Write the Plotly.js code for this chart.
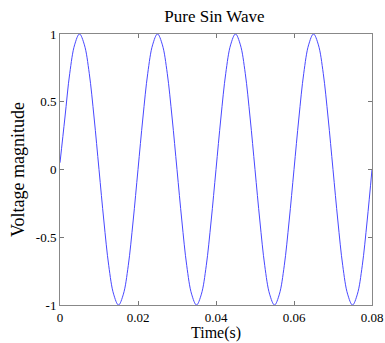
<!DOCTYPE html>
<html><head><meta charset="utf-8">
<script src="https://cdn.plot.ly/plotly-3.0.1.min.js"></script>
<style>html,body{margin:0;padding:0;background:#fff}#g{width:385px;height:343px}</style>
</head><body><div id="g"></div>
<script>
const timeS = [0,0.00125,0.0025,0.00375,0.005,0.00625,0.0075,0.00875,0.01,0.01125,0.0125,0.01375,0.015,0.01625,0.0175,0.01875,
0.02,0.02125,0.0225,0.02375,0.025,0.02625,0.0275,0.02875,0.03,0.03125,0.0325,0.03375,0.035,0.03625,0.0375,0.03875,
0.04,0.04125,0.0425,0.04375,0.045,0.04625,0.0475,0.04875,0.05,0.05125,0.0525,0.05375,0.055,0.05625,0.0575,0.05875,
0.06,0.06125,0.0625,0.06375,0.065,0.06625,0.0675,0.06875,0.07,0.07125,0.0725,0.07375,0.075,0.07625,0.0775,0.07875,0.08];
const voltage = [0.05,0.38,0.71,0.92,1,0.92,0.71,0.38,0,-0.38,-0.71,-0.92,-1,-0.92,-0.71,-0.38,
0,0.38,0.71,0.92,1,0.92,0.71,0.38,0,-0.38,-0.71,-0.92,-1,-0.92,-0.71,-0.38,
0,0.38,0.71,0.92,1,0.92,0.71,0.38,0,-0.38,-0.71,-0.92,-1,-0.92,-0.71,-0.38,
0,0.38,0.71,0.92,1,0.92,0.71,0.38,0,-0.38,-0.71,-0.92,-1,-0.92,-0.71,-0.38,0];
const xTicks = [0,0.02,0.04,0.06,0.08];
const xTickText = ['0','0.02','0.04','0.06','0.08'];
const yTicks = [-1,-0.5,0,0.5,1];
const yTickText = ['-1','-0.5','0','0.5','1'];

const font = {family:'"Liberation Serif","Times New Roman",serif', color:'#000'};
Plotly.newPlot('g', [{
  x: timeS, y: voltage, type:'scatter', mode:'lines',
  line:{color:'#4848ff', width:1, shape:'spline', smoothing:1}
}], {
  width:385, height:343,
  margin:{l:60, r:13, t:34, b:38},
  paper_bgcolor:'#fff', plot_bgcolor:'#fff',
  showlegend:false,
  title:{text:'Pure Sin Wave', font:Object.assign({size:17}, font), x:0.557, xanchor:'center', y:0.952, yanchor:'middle'},
  xaxis:{range:[0,0.08], tickvals:xTicks, ticktext:xTickText, ticks:'inside', ticklen:4, tickcolor:'#777',
    showline:true, linecolor:'#888', linewidth:1, mirror:'ticks', showgrid:false, zeroline:false,
    tickfont:Object.assign({size:13}, font)},
  yaxis:{range:[-1,1], tickvals:yTicks, ticktext:yTickText, ticks:'inside', ticklen:4, tickcolor:'#777',
    showline:true, linecolor:'#888', linewidth:1, mirror:'ticks', showgrid:false, zeroline:false,
    tickfont:Object.assign({size:13}, font),
    title:{text:'Voltage magnitude', font:Object.assign({size:18}, font), standoff:6}},
  annotations:[{text:'Time(s)', xref:'paper', yref:'paper', x:0.5, y:0, xanchor:'center', yanchor:'top',
    yshift:-18, borderpad:0, showarrow:false, font:Object.assign({size:16}, font)}]
}, {displayModeBar:false, staticPlot:true});
</script></body></html>
